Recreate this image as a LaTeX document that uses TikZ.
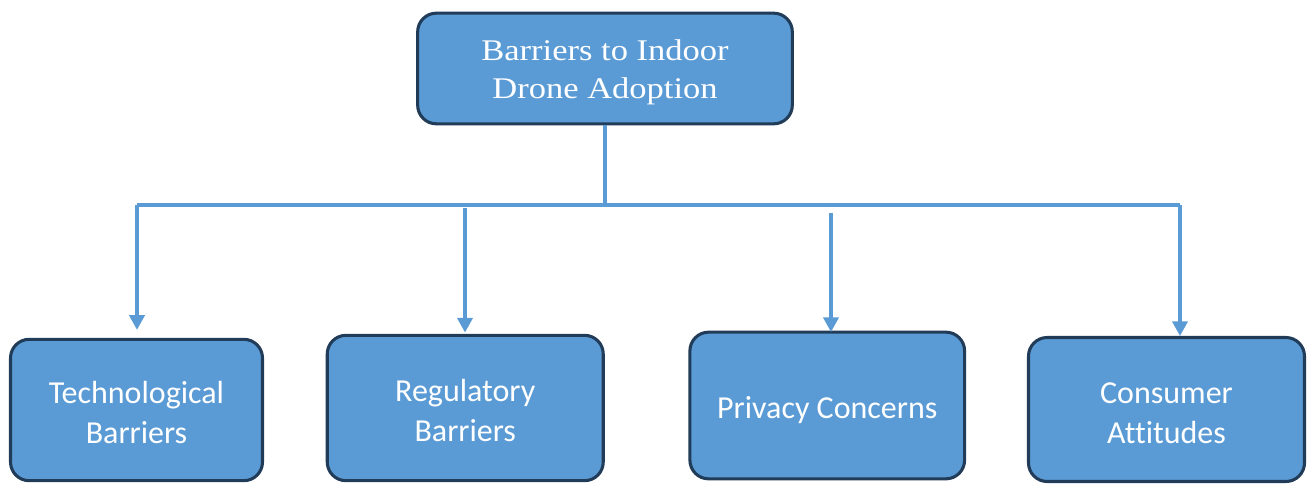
\documentclass[tikz,border=0pt]{standalone}
\usepackage{fontspec}
\setsansfont[Ligatures=NoCommon,Contextuals=NoAlternate,RawFeature={-liga;-calt}]{Carlito}
\newfontfamily\titlefont[FakeStretch=1.15]{Liberation Serif}
\definecolor{BoxBlue}{HTML}{5B9BD5}
\definecolor{BoxEdge}{HTML}{213C58}
\usetikzlibrary{arrows.meta,calc}
% invisible strut: lowers the text a little inside its box
\newcommand{\lowtext}[1]{\rule{0pt}{#1}}

\begin{document}
\begin{tikzpicture}[x=0.75pt,y=-0.75pt,
            box/.style={draw=BoxEdge,line width=2.3pt,fill=BoxBlue,rounded corners=14pt,
                        text=white,align=center,inner sep=0pt},
            topbox/.style={box,font={\titlefont\fontsize{22.5}{28.5}\selectfont}},
            subbox/.style={box,font={\sffamily\fontsize{24}{30}\selectfont}},
            link/.style={draw=BoxBlue,line width=2.3pt},
            arr/.style={link,-{Triangle[width=11.5pt,length=11pt]}}
        ]
        \useasboundingbox (0,0) rectangle (1307,483);

        \node[topbox,minimum width=281pt,minimum height=83pt] (T) at (605,68.5)
            {\lowtext{21pt}Barriers to Indoor\\Drone Adoption};

        \node[subbox,minimum width=189pt,minimum height=106pt] (Tech) at (136.5,410)
            {\lowtext{21pt}Technological\\Barriers};
        \node[subbox,minimum width=207pt,minimum height=109pt] (Reg) at (465.25,408)
            {\lowtext{21pt}Regulatory\\Barriers};
        \node[subbox,minimum width=206pt,minimum height=110pt] (Priv) at (827.25,405.5)
            {\lowtext{23pt}Privacy Concerns};
        \node[subbox,minimum width=207pt,minimum height=108pt] (Cons) at (1166.5,409.5)
            {\lowtext{21pt}Consumer\\Attitudes};

        \coordinate (hubL) at (137,205);
        \coordinate (hubR) at (1180,205);
        \coordinate (regTop) at (465,208);
        \coordinate (privTop) at (831,213);

        \draw[link] (T.south) -- (T.south |- hubL);
        \draw[link] (hubL) -- (hubR);
        \draw[arr,shorten >=6pt] (hubL) -- (hubL |- Tech.north);
        \draw[arr,shorten >=1pt] (regTop) -- (regTop |- Reg.north);
        \draw[arr,shorten >=-1pt] (privTop) -- (privTop |- Priv.north);
        \draw[arr] (hubR) -- (hubR |- Cons.north);
        %\draw[arr] (T.south) |- (hubR);
    \end{tikzpicture}
\end{document}
